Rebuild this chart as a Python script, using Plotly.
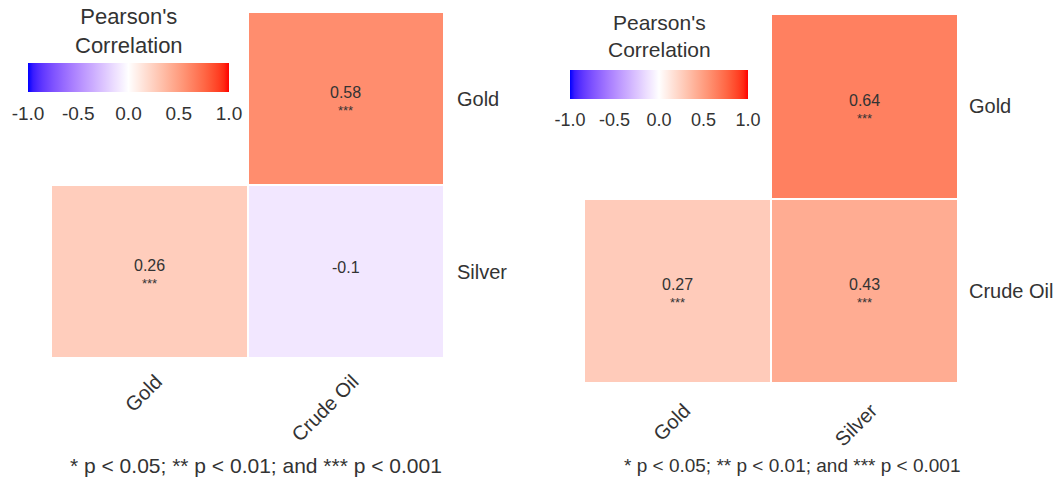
import plotly.graph_objects as go

# ---------------- data ----------------
left_x = ["Gold", "Crude Oil"]
left_y = ["Silver", "Gold"]
left_z = [[0.26, -0.10], [None, 0.58]]
left_sig = [["***", ""], ["", "***"]]

right_x = ["Gold", "Silver"]
right_y = ["Crude Oil", "Gold"]
right_z = [[0.27, 0.43], [None, 0.64]]
right_sig = [["***", "***"], ["", "***"]]

cb_ticks = [-1.0, -0.5, 0.0, 0.5, 1.0]
cb_ticktext = ["-1.0", "-0.5", "0.0", "0.5", "1.0"]
legend_title = ["Pearson's", "Correlation"]
footnote = "* p < 0.05; ** p < 0.01; and *** p < 0.001"

W, H = 1056, 479
FONT = "Liberation Sans, Arial, Helvetica, sans-serif"
TXT = "#333333"


# ------------- Lab-interpolated blue-white-red scale (like ggplot) -------------
def _lin(c):
    return c / 12.92 if c <= 0.04045 else ((c + 0.055) / 1.055) ** 2.4


def _gam(c):
    c = max(0.0, min(1.0, c))
    return 12.92 * c if c <= 0.0031308 else 1.055 * c ** (1 / 2.4) - 0.055


WN = (0.95047, 1.0, 1.08883)
D = 6 / 29


def _f(t):
    return t ** (1 / 3) if t > D ** 3 else t / (3 * D * D) + 4 / 29


def _fi(t):
    return t ** 3 if t > D else 3 * D * D * (t - 4 / 29)


def to_lab(rgb):
    r, g, b = [_lin(v / 255) for v in rgb]
    X = 0.4124564 * r + 0.3575761 * g + 0.1804375 * b
    Y = 0.2126729 * r + 0.7151522 * g + 0.0721750 * b
    Z = 0.0193339 * r + 0.1191920 * g + 0.9503041 * b
    fx, fy, fz = _f(X / WN[0]), _f(Y / WN[1]), _f(Z / WN[2])
    return (116 * fy - 16, 500 * (fx - fy), 200 * (fy - fz))


def from_lab(lab):
    L, a, b = lab
    fy = (L + 16) / 116
    fx = fy + a / 500
    fz = fy - b / 200
    X, Y, Z = WN[0] * _fi(fx), WN[1] * _fi(fy), WN[2] * _fi(fz)
    r = 3.2404542 * X - 1.5371385 * Y - 0.4985314 * Z
    g = -0.9692660 * X + 1.8760108 * Y + 0.0415560 * Z
    bb = 0.0556434 * X - 0.2040259 * Y + 1.0572252 * Z
    return "rgb(%d,%d,%d)" % tuple(round(_gam(v) * 255) for v in (r, g, bb))


lab_low, lab_mid, lab_high = to_lab((0, 0, 255)), to_lab((255, 255, 255)), to_lab((255, 0, 0))
colorscale = []
N = 40
for i in range(N + 1):
    p = i / N
    if p <= 0.5:
        t = p / 0.5
        lab = tuple(lab_low[k] + (lab_mid[k] - lab_low[k]) * t for k in range(3))
    else:
        t = (p - 0.5) / 0.5
        lab = tuple(lab_mid[k] + (lab_high[k] - lab_mid[k]) * t for k in range(3))
    colorscale.append([p, from_lab(lab)])


def fmt(v):
    return "%g" % round(v, 2)


fig = go.Figure()


def add_panel(xs, ys, z, sig, xa, ya, cb_x, cb_y, cb_len, cb_thick, tickfs):
    fig.add_trace(go.Heatmap(
        x=xs, y=ys, z=z, zmin=-1, zmax=1, colorscale=colorscale,
        xgap=2, ygap=2, xaxis=xa, yaxis=ya, hoverongaps=False,
        colorbar=dict(
            orientation="h", x=cb_x / W, xanchor="center", y=1 - cb_y / H, yanchor="top",
            len=cb_len, lenmode="pixels", thickness=cb_thick, thicknessmode="pixels",
            xpad=0, ypad=0, outlinewidth=0,
            tickvals=cb_ticks, ticktext=cb_ticktext,
            ticks="outside", ticklen=6, tickcolor="white", tickwidth=1,
            tickfont=dict(size=tickfs, color=TXT, family=FONT),
        ),
    ))
    for j, yv in enumerate(ys):
        for i, xv in enumerate(xs):
            v = z[j][i]
            if v is None:
                continue
            s = sig[j][i]
            fig.add_annotation(x=xv, y=yv, xref=xa, yref=ya, text=fmt(v), showarrow=False,
                               yshift=6 if s else 4,
                               font=dict(size=16, color=TXT, family=FONT))
            if s:
                fig.add_annotation(x=xv, y=yv, xref=xa, yref=ya, text=s, showarrow=False,
                                   yshift=-12, font=dict(size=13, color=TXT, family=FONT))


add_panel(left_x, left_y, left_z, left_sig, "x", "y", 128.5, 63, 201, 29, 19)
add_panel(right_x, right_y, right_z, right_sig, "x2", "y2", 659, 70, 178, 29, 18)

axis_common = dict(showgrid=False, zeroline=False, showline=False, ticks="")
fig.update_layout(
    width=W, height=H, margin=dict(l=0, r=0, t=0, b=0),
    paper_bgcolor="white", plot_bgcolor="white",
    font=dict(family=FONT, color=TXT),
    xaxis=dict(domain=[51 / W, 444 / W], anchor="y", tickangle=-45, side="bottom",
               ticklabelstandoff=7, ticklabelshift=7,
               tickfont=dict(size=20, color=TXT), **axis_common),
    yaxis=dict(domain=[1 - 358 / H, 1 - 12 / H], anchor="x", side="right",
               ticklabelstandoff=12, tickfont=dict(size=20, color=TXT), **axis_common),
    xaxis2=dict(domain=[584 / W, 958 / W], anchor="y2", tickangle=-45, side="bottom",
                ticklabelstandoff=11, ticklabelshift=7,
                tickfont=dict(size=20, color=TXT), **axis_common),
    yaxis2=dict(domain=[1 - 383 / H, 1 - 14 / H], anchor="x2", side="right",
                ticklabelstandoff=10, tickfont=dict(size=20, color=TXT), **axis_common),
)

# legend titles
for cx, cy, fs in [(128.5, 31, 22), (659, 36, 21)]:
    fig.add_annotation(x=cx / W, y=1 - cy / H, xref="paper", yref="paper",
                       text="<br>".join(legend_title),
                       showarrow=False, xanchor="center", yanchor="middle", align="center",
                       font=dict(size=fs, color=TXT, family=FONT))

# footnotes
for cx, fs in [(256, 21), (792, 19)]:
    fig.add_annotation(x=cx / W, y=1 - 465 / H, xref="paper", yref="paper", text=footnote,
                       showarrow=False, xanchor="center", yanchor="middle",
                       font=dict(size=fs, color=TXT, family=FONT))

fig.write_html("out.html")
